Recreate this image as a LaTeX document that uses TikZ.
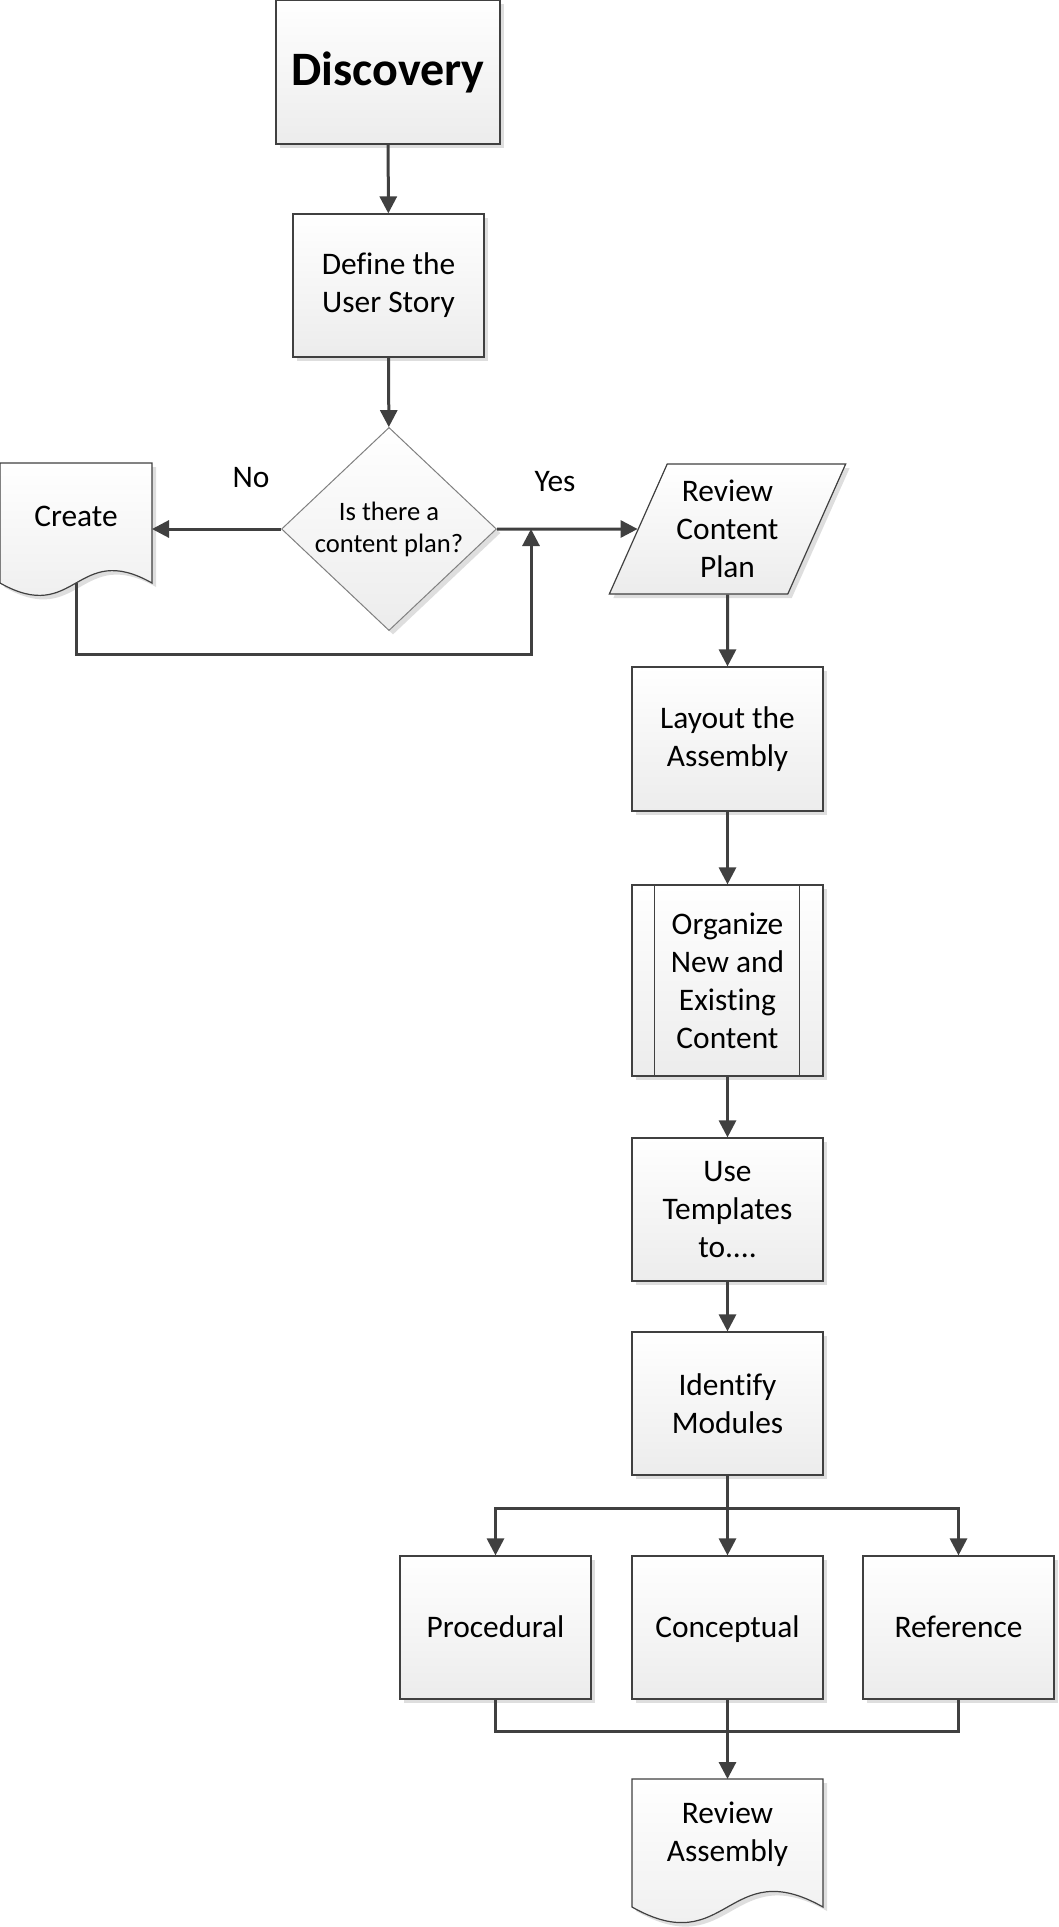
\documentclass[tikz,border=0pt]{standalone}
\usepackage{fontspec}
\setmainfont{Carlito}[Ligatures=NoCommon]
\usepackage{tikz}
\usetikzlibrary{shapes.geometric, shadows, arrows.meta, calc}
\definecolor{edge}{RGB}{64, 64, 64}
\definecolor{rim}{RGB}{128, 128, 128}
\definecolor{shade}{RGB}{236, 236, 236}
\definecolor{ghost}{RGB}{222, 222, 222}
\newcommand{\flowfont}{\fontsize{15.7}{19}\selectfont}
\newcommand{\askfont}{\fontsize{13.3}{16}\selectfont}
\newcommand{\titlefont}{\fontsize{24}{29}\selectfont\bfseries}

% document symbol: name, centre, half width, top, side bottom, wave (pt)
\newcommand{\docshape}[6]{%
  \begin{scope}[shift={(#2)}]
    \fill[ghost, xshift=2pt, yshift=-2pt] (-#3pt, #4pt) -- (#3pt, #4pt) -- (#3pt, -#5pt)
      .. controls (0pt, -#5pt+#6pt) and (0pt, -#5pt-#6pt) .. (-#3pt, -#5pt) -- cycle;
    \shade[top color=white, bottom color=shade, draw=edge, line width=0.6pt]
      (-#3pt, #4pt) -- (#3pt, #4pt) -- (#3pt, -#5pt)
      .. controls (0pt, -#5pt+#6pt) and (0pt, -#5pt-#6pt) .. (-#3pt, -#5pt) -- cycle;
    \coordinate (#1-n) at (0pt, #4pt);
    \coordinate (#1-s) at (0pt, -#5pt);
    \coordinate (#1-e) at (#3pt, 0pt);
  \end{scope}}

\begin{document}
\begin{tikzpicture}[x=0.5pt, y=-0.5pt,
  box/.style={rectangle, draw=edge, line width=0.6pt, top color=white, bottom color=shade,
    drop shadow={shadow xshift=2pt, shadow yshift=-2pt, opacity=1, fill=ghost},
    minimum width=95.5pt, minimum height=71.5pt, inner sep=0pt, align=center, font=\flowfont},
  oneline/.style={box, text height=10.1pt, text depth=0pt},
  flow/.style={draw=edge, line width=1.5pt, -{Triangle[length=8.5pt, width=8.5pt]}},
  link/.style={draw=edge, line width=1.5pt}]

  \useasboundingbox (0, 0) rectangle (1059, 1927);

  % left part
  \node[box, minimum width=112pt, minimum height=72pt, font=\titlefont] (disc) at (388, 72) {Discovery};
  \node[box] (story) at (388.5, 285.5) {Define the\\User Story};
  \node[box, shape=diamond, draw=rim, line width=0.5pt, aspect=1, font=\askfont,
    minimum width=107.5pt, minimum height=101.5pt] (ask) at (389, 529) {Is there a\\content plan?};

  \docshape{create}{76, 516}{38}{26.5}{33.5}{21.5}
  \node[font=\flowfont] (create) at (76, 516) {Create};

  \node[font=\flowfont] (no) at (251, 478) {No};
  \node[font=\flowfont] (yes) at (555, 482) {Yes};

  % right column
  \node[box, shape=trapezium, trapezium left angle=63.4, trapezium right angle=116.6,
    trapezium stretches=true, minimum width=119.5pt, minimum height=65pt] (plan) at (727.5, 529)
    {Review\\Content\\Plan};
  \node[box, minimum height=72pt] (layout) at (727.5, 739) {Layout the\\Assembly};
  \node[box, minimum height=95.5pt] (org) at (727.5, 980.5) {Organize\\New and\\Existing\\Content};
  \draw[edge, line width=0.6pt] ([xshift=11.5pt]org.north west) -- ([xshift=11.5pt]org.south west);
  \draw[edge, line width=0.6pt] ([xshift=-12pt]org.north east) -- ([xshift=-12pt]org.south east);
  \node[box] (templ) at (727.5, 1209.5) {Use\\Templates\\to....};
  \node[box] (ident) at (727.5, 1403.5) {Identify\\Modules};

  \node[oneline] (proc) at (495.5, 1627.5) {Procedural};
  \node[oneline] (conc) at (727.5, 1627.5) {Conceptual};
  \node[oneline] (refer) at (958.5, 1627.5) {Reference};

  \docshape{revasm}{727.5, 1834}{47.75}{27.5}{36.5}{27}
  \node[font=\flowfont, align=center] (revasm) at (727.5, 1834) {Review\\Assembly};

  \coordinate (join) at (531, 529);
  \coordinate (loop) at (531, 654);

  % connectors
  \draw[flow] (disc) -- (story);
  \draw[flow] (story) -- (ask);
  \draw[flow] (ask.west) -- (ask.west -| create-e);
  \draw[flow] (ask.east) -- (plan);
  \draw[flow] (create-s) |- (loop) -- (join);
  \draw[flow] (plan) -- (layout);
  \draw[flow] (layout) -- (org);
  \draw[flow] (org) -- (templ);
  \draw[flow] (templ) -- (ident);
  \draw[flow] (ident) -- (conc);
  \draw[flow] ([yshift=-16.5pt]ident.south) -| (proc);
  \draw[flow] ([yshift=-16.5pt]ident.south) -| (refer);
  \draw[link] (proc.south) -- ++(0, -16pt) -| (refer.south);
  \draw[flow] (conc.south) -- (revasm-n);

\end{tikzpicture}
\end{document}
